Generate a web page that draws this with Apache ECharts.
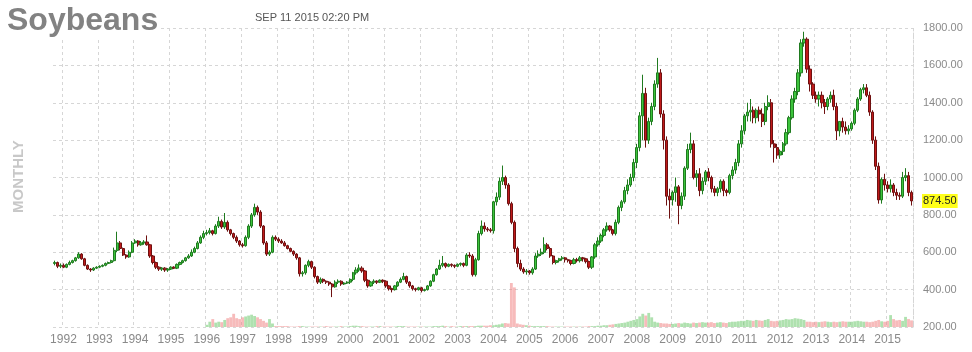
<!DOCTYPE html>
<html><head><meta charset="utf-8">
<script src="https://cdn.jsdelivr.net/npm/echarts@6/dist/echarts.min.js"></script>
<style>html,body{margin:0;padding:0;background:#fff}#c{width:972px;height:352px}</style>
</head><body><div id="c"></div>
<script>
// Monthly candles, first one Oct 1991, last Sep 2015
const startYear = 1991, startMonth = 10;
const titleText = 'Soybeans';
const stampText = 'SEP 11 2015 02:20 PM';
const periodText = 'MONTHLY';
const lastPrice = 874.5;

const open = [
  540,545,525,
  530,520,535,545,555,570,590,565,530,510,505,515,
  520,525,530,540,545,555,610,650,620,585,575,600,
  650,660,640,650,655,640,580,545,520,510,515,505,
  510,520,515,535,545,555,570,580,600,620,650,680,
  700,705,715,700,740,765,735,760,720,700,680,660,
  640,635,680,740,800,840,815,740,650,590,600,680,
  670,660,650,635,620,605,590,570,485,490,530,550,
  520,470,440,455,445,440,430,415,440,445,430,435,
  440,455,490,505,515,500,450,420,440,445,440,450,
  445,420,405,400,420,440,455,470,440,420,405,400,
  410,395,400,420,445,480,510,530,540,525,535,530,
  525,535,540,530,585,580,480,560,700,740,725,720,
  715,870,895,980,1000,960,860,760,620,540,510,495,
  500,490,510,580,590,600,640,620,580,545,555,565,
  570,560,555,540,560,555,570,565,550,520,575,640,
  660,690,720,740,720,700,760,840,870,930,960,1000,
  1080,1160,1330,1450,1200,1300,1380,1500,1560,1340,1200,900,
  880,920,950,850,900,1050,1150,1180,1000,1020,930,980,
  1030,1000,940,920,940,980,930,920,1010,1040,1080,1180,
  1250,1330,1350,1360,1320,1360,1340,1300,1380,1400,1180,1160,
  1120,1140,1180,1240,1320,1420,1460,1560,1720,1740,1580,1500,
  1440,1420,1440,1400,1380,1420,1440,1380,1250,1300,1270,1250,
  1260,1290,1360,1420,1470,1480,1440,1350,1200,1060,880,990,
  960,940,960,920,905,900,1000,1010,920
];
const close = [
  545,525,530,
  520,535,545,555,570,590,565,530,510,505,515,520,
  525,530,540,545,555,610,650,620,585,575,600,650,
  660,640,650,655,640,580,545,520,510,515,505,510,
  520,515,535,545,555,570,580,600,620,650,680,700,
  705,715,700,740,765,735,760,720,700,680,660,640,
  635,680,740,800,840,815,740,650,590,600,680,670,
  660,650,635,620,605,590,570,485,490,530,550,520,
  470,440,455,445,440,430,415,440,445,430,435,440,
  455,490,505,515,500,450,420,440,445,440,450,445,
  420,405,400,420,440,455,470,440,420,405,400,410,
  395,400,420,445,480,510,530,540,525,535,530,525,
  535,540,530,585,580,480,560,700,740,725,720,715,
  870,895,980,1000,960,860,760,620,540,510,495,500,
  490,510,580,590,600,640,620,580,545,555,565,570,
  560,555,540,560,555,570,565,550,520,575,640,660,
  690,720,740,720,700,760,840,870,930,960,1000,1080,
  1160,1330,1450,1200,1300,1380,1500,1560,1340,1200,900,880,
  920,950,850,900,1050,1150,1180,1000,1020,930,980,1030,
  1000,940,920,940,980,930,920,1010,1040,1080,1180,1250,
  1330,1350,1360,1320,1360,1340,1300,1380,1400,1180,1160,1120,
  1140,1180,1240,1320,1420,1460,1560,1720,1740,1580,1500,1440,
  1420,1440,1400,1380,1420,1440,1380,1250,1300,1270,1250,1260,
  1290,1360,1420,1470,1480,1440,1350,1200,1060,880,990,960,
  940,960,920,905,900,1000,1010,920,874.5
];
const high = [
  555,550,540,
  540,540,555,560,575,600,595,570,535,515,520,525,
  530,535,545,550,560,625,710,660,625,590,610,660,
  670,665,660,665,690,645,585,550,525,520,520,515,
  525,525,540,550,560,575,590,615,630,660,690,715,
  720,730,720,750,790,775,810,770,725,705,690,665,
  650,690,750,810,860,850,825,745,660,610,690,690,
  680,670,660,640,625,610,595,575,500,535,560,555,
  525,475,465,460,450,445,435,450,455,450,440,445,
  460,495,520,535,525,505,455,445,455,450,455,455,
  450,425,410,425,445,465,490,475,445,425,410,415,
  415,405,425,450,485,515,560,580,545,540,540,535,
  540,545,545,595,600,590,570,715,770,760,735,730,
  875,920,1000,1064,1010,970,870,770,630,560,520,510,
  505,520,595,610,620,680,650,630,585,560,570,580,
  575,565,560,570,570,580,575,570,555,580,650,680,
  700,730,760,745,725,775,850,880,950,990,1020,1100,
  1180,1350,1550,1480,1320,1400,1520,1640,1580,1360,1220,940,
  930,1000,960,920,1060,1180,1240,1200,1040,1050,1000,1040,
  1050,1010,955,950,990,990,940,1020,1060,1100,1200,1280,
  1340,1400,1420,1380,1370,1380,1370,1400,1440,1420,1200,1180,
  1150,1190,1260,1330,1440,1480,1580,1740,1780,1750,1600,1510,
  1460,1460,1460,1420,1430,1460,1470,1400,1300,1320,1300,1280,
  1300,1370,1430,1480,1500,1500,1460,1360,1220,1080,1000,1020,
  980,990,970,940,920,1030,1050,1030,930
];
const low = [
  530,515,515,
  515,515,530,540,550,565,560,525,505,495,500,510,
  515,520,525,535,540,550,600,610,580,565,570,595,
  645,630,635,640,635,570,535,510,500,500,495,495,
  505,510,510,530,540,550,565,575,595,615,645,670,
  690,695,690,695,730,725,725,710,690,670,650,630,
  625,630,670,730,790,800,730,640,580,580,595,660,
  650,645,630,615,600,580,560,470,470,480,520,510,
  460,430,430,435,430,420,360,410,430,420,425,430,
  430,445,480,495,490,440,410,415,430,430,435,435,
  410,395,385,395,415,435,450,430,410,395,390,395,
  385,390,395,415,440,475,505,520,515,520,520,515,
  520,525,520,525,570,470,470,555,690,710,710,705,
  700,850,880,960,940,850,750,600,520,500,485,480,
  480,480,505,570,580,590,610,570,535,535,545,555,
  545,545,530,535,545,545,550,540,510,510,565,630,
  650,680,710,710,690,690,750,820,860,910,950,980,
  1050,1140,1200,1160,1180,1280,1360,1480,1320,1150,850,780,
  850,870,750,830,880,1040,1130,990,950,900,910,960,
  980,920,900,900,920,900,900,910,990,1020,1060,1160,
  1230,1300,1300,1290,1290,1300,1270,1280,1360,1160,1080,1100,
  1100,1120,1170,1230,1310,1400,1440,1540,1700,1560,1460,1420,
  1400,1380,1370,1340,1360,1400,1360,1200,1220,1240,1230,1230,
  1250,1280,1350,1410,1450,1430,1330,1180,1040,860,860,930,
  920,920,900,880,880,890,980,900,850
];
const volume = [
  0,0,0,
  0,0,0,0,0,0,0,0,0,0,0,0,
  0,0,0,0,0,0,0,0,0,0,0,0,
  0,0,0,0,0,0,0,0,0,0,0,0,
  0,0,0,0,0,0,0,0,0,0,0,0,
  5,12,18,10,12,11,16,20,22,30,20,18,
  22,24,26,28,25,22,18,14,10,18,8,2,
  2,2,2,2,1,1,1,2,2,1,1,1,
  1,1,1,1,2,1,1,1,1,2,1,1,
  2,3,3,2,2,1,1,1,1,2,2,1,
  1,1,1,1,2,2,2,1,1,1,1,1,
  1,1,1,1,2,2,2,3,2,1,2,1,
  1,2,2,2,2,2,2,3,3,3,3,4,
  4,5,6,8,9,8,100,90,8,6,5,4,
  3,2,2,2,2,2,2,1,1,1,1,1,
  1,1,1,1,1,1,1,1,2,2,2,3,
  3,4,4,5,6,7,8,9,10,12,14,16,
  18,24,30,26,32,22,12,10,9,8,8,7,
  7,8,9,8,10,9,8,10,9,10,11,10,
  10,11,9,10,11,10,9,11,12,12,13,14,
  14,16,15,14,16,15,14,16,18,14,13,14,
  15,16,18,17,18,20,19,18,16,12,12,11,
  12,11,12,13,12,11,12,11,12,13,12,12,
  12,13,14,13,12,12,11,12,14,16,13,12,
  14,27,18,15,16,14,23,18,15
];

const months = [];
{ let y = startYear, m = startMonth;
  for (let i = 0; i < close.length; i++) {
    months.push(y + '-' + (m < 10 ? '0' + m : m));
    m++; if (m > 12) { m = 1; y++; }
  } }
const isJan = (i) => months[i].slice(5) === '01';
const candles = close.map((c, i) => [open[i], c, low[i], high[i]]);
const vols = volume.map((v, i) => ({
  value: v,
  itemStyle: { color: close[i] >= open[i] ? 'rgba(110,200,110,0.55)' : 'rgba(240,120,120,0.5)' }
}));

const FONT = "'Liberation Sans', Arial, sans-serif";
const chart = echarts.init(document.getElementById('c'), null, { renderer: 'canvas' });
chart.setOption({
  animation: false,
  backgroundColor: '#fff',
  textStyle: { fontFamily: FONT },
  grid: [
    { left: 53, right: 59, top: 28, bottom: 25 },
    { left: 53, right: 59, top: 283, bottom: 25 }
  ],
  graphic: [
    { type: 'text', left: 7, top: 5, z: 100,
      style: { text: titleText, font: "bold 32px " + FONT, fill: '#828282', backgroundColor: '#fff' } },
    { type: 'text', left: 255, top: 12, z: 100,
      style: { text: stampText, font: "11px " + FONT, fill: '#555' } },
    { type: 'text', x: 26, y: 213, rotation: Math.PI / 2, z: 100,
      style: { text: periodText, font: "bold 15px " + FONT, fill: '#c8c8c8', verticalAlign: 'bottom', align: 'left' } }
  ],
  xAxis: [
    { type: 'category', data: months, gridIndex: 0, boundaryGap: true,
      axisLine: { show: false }, axisTick: { show: false },
      axisLabel: { interval: (i) => isJan(i), formatter: (v) => v.slice(0, 4),
        color: '#8a8a8a', fontSize: 12, margin: 7, fontFamily: FONT },
      splitLine: { show: true, interval: (i) => isJan(i),
        lineStyle: { color: '#d6d6d6', type: [3, 3], width: 1 } } },
    { type: 'category', data: months, gridIndex: 1, boundaryGap: true, show: false }
  ],
  yAxis: [
    { type: 'value', gridIndex: 0, position: 'right', min: 200, max: 1800, interval: 200,
      axisLine: { show: true, lineStyle: { color: '#d6d6d6', type: [2, 2] } },
      axisTick: { show: false },
      axisLabel: { formatter: (v) => v.toFixed(2), color: '#8a8a8a', fontSize: 11, margin: 10, fontFamily: FONT },
      splitLine: { show: true, lineStyle: { color: '#d6d6d6', type: [3, 3], width: 1 } } },
    { type: 'value', gridIndex: 1, min: 0, max: 100, show: false, splitLine: { show: false } }
  ],
  series: [
    { type: 'bar', xAxisIndex: 1, yAxisIndex: 1, data: vols, barCategoryGap: '5%', z: 1, silent: true },
    { type: 'candlestick', xAxisIndex: 0, yAxisIndex: 0, data: candles, barWidth: '90%', z: 3,
      itemStyle: { color: '#3cc43c', color0: '#c01a1a', borderColor: '#1f7a1f', borderColor0: '#6e1010', borderWidth: 1 },
      markLine: { silent: true, symbol: 'none', animation: false,
        lineStyle: { color: 'rgba(0,0,0,0)', width: 1, type: 'solid' },
        label: { show: true, position: 'end', distance: 9, formatter: lastPrice.toFixed(2),
          backgroundColor: '#ffff1a', color: '#222', fontSize: 11, padding: [2, 1, 1, 1], fontFamily: FONT },
        emphasis: { disabled: true },
        data: [{ yAxis: lastPrice }] } }
  ]
});
</script></body></html>
